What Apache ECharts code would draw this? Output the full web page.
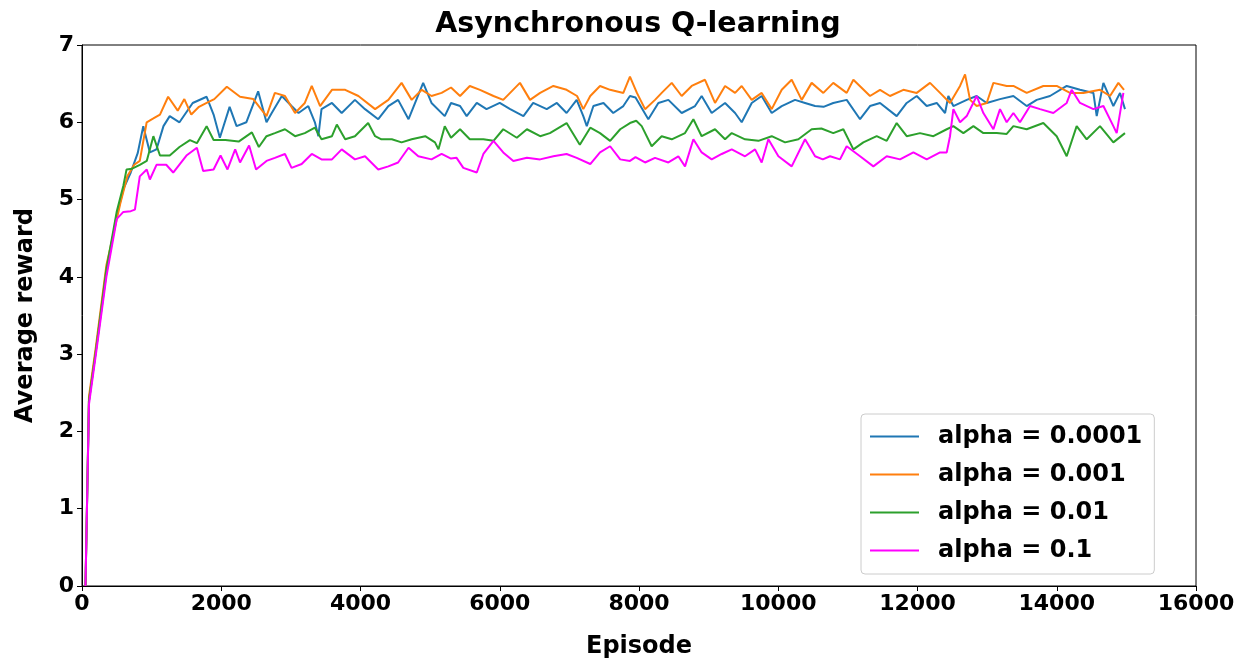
<!DOCTYPE html>
<html>
<head>
<meta charset="utf-8">
<script src="https://cdn.jsdelivr.net/npm/echarts@6/dist/echarts.min.js"></script>
<style>html,body{margin:0;padding:0;background:#fff}#chart{width:1244px;height:664px}</style>
</head>
<body>
<div id="chart"></div>
<script>
const seriesNames = ['alpha = 0.0001', 'alpha = 0.001', 'alpha = 0.01', 'alpha = 0.1'];
const seriesColors = ['#1f77b4', '#ff7f0e', '#2ca02c', '#ff00ff'];
const xTicks = [0, 2000, 4000, 6000, 8000, 10000, 12000, 14000, 16000];
const yTicks = [0, 1, 2, 3, 4, 5, 6, 7];

// [episode, average reward]
const alpha0001 = [[50,0],[100,2.4],[200,3.05],[350,4.05],[500,4.8],[600,5.15],[700,5.35],[800,5.6],[880,5.95],[975,5.61],[1070,5.65],[1170,5.95],[1260,6.08],[1400,6.0],[1590,6.25],[1790,6.33],[1890,6.1],[1980,5.8],[2120,6.2],[2220,5.95],[2360,6.0],[2530,6.4],[2650,6.0],[2725,6.12],[2870,6.34],[3010,6.21],[3110,6.12],[3250,6.21],[3345,6.0],[3395,5.82],[3440,6.17],[3590,6.25],[3730,6.12],[3920,6.29],[4065,6.17],[4255,6.04],[4400,6.21],[4540,6.29],[4690,6.04],[4900,6.51],[5020,6.25],[5210,6.08],[5300,6.25],[5430,6.21],[5525,6.08],[5670,6.25],[5810,6.17],[6000,6.25],[6150,6.17],[6340,6.08],[6480,6.25],[6675,6.17],[6820,6.25],[6960,6.12],[7105,6.29],[7200,6.08],[7250,5.95],[7345,6.21],[7490,6.25],[7630,6.12],[7775,6.21],[7870,6.34],[7950,6.32],[8134,6.04],[8278,6.25],[8422,6.29],[8613,6.12],[8805,6.21],[8900,6.34],[9044,6.12],[9236,6.25],[9380,6.12],[9475,6.0],[9619,6.25],[9762,6.34],[9906,6.12],[10050,6.21],[10241,6.29],[10385,6.25],[10529,6.21],[10650,6.2],[10790,6.25],[10983,6.29],[11175,6.04],[11318,6.21],[11462,6.25],[11701,6.08],[11845,6.25],[11989,6.34],[12132,6.21],[12276,6.25],[12396,6.12],[12443,6.34],[12515,6.21],[12707,6.29],[12850,6.34],[12994,6.25],[13185,6.3],[13377,6.34],[13568,6.21],[13712,6.29],[13903,6.34],[14143,6.47],[14334,6.42],[14526,6.38],[14574,6.08],[14670,6.51],[14813,6.21],[14909,6.38],[14980,6.17]];

const alpha001 = [[50,0],[100,2.45],[200,3.1],[350,4.15],[450,4.55],[550,4.95],[650,5.3],[750,5.45],[830,5.5],[929,6.0],[1025,6.05],[1120,6.1],[1237,6.33],[1375,6.15],[1470,6.3],[1570,6.1],[1680,6.2],[1790,6.25],[1900,6.3],[2080,6.46],[2270,6.33],[2460,6.3],[2650,6.08],[2770,6.38],[2915,6.34],[3060,6.12],[3200,6.25],[3300,6.47],[3420,6.21],[3590,6.42],[3780,6.42],[3970,6.34],[4210,6.17],[4400,6.29],[4590,6.51],[4735,6.29],[4880,6.42],[5020,6.34],[5165,6.38],[5300,6.45],[5430,6.34],[5570,6.47],[5716,6.42],[5910,6.34],[6050,6.29],[6290,6.51],[6435,6.29],[6580,6.38],[6770,6.47],[6960,6.42],[7110,6.34],[7200,6.17],[7300,6.34],[7440,6.47],[7585,6.42],[7775,6.38],[7870,6.59],[7970,6.38],[8087,6.17],[8230,6.29],[8326,6.38],[8470,6.51],[8613,6.34],[8757,6.47],[8948,6.55],[9092,6.25],[9236,6.47],[9380,6.38],[9475,6.47],[9619,6.29],[9762,6.38],[9906,6.17],[10050,6.42],[10193,6.55],[10337,6.29],[10480,6.51],[10648,6.38],[10790,6.51],[10983,6.38],[11079,6.55],[11318,6.34],[11462,6.42],[11605,6.34],[11797,6.42],[11989,6.38],[12180,6.51],[12324,6.38],[12467,6.25],[12611,6.47],[12683,6.62],[12755,6.29],[12850,6.21],[12994,6.25],[13090,6.51],[13281,6.47],[13377,6.47],[13568,6.38],[13807,6.47],[13999,6.47],[14190,6.38],[14382,6.38],[14621,6.42],[14765,6.34],[14885,6.51],[14966,6.42]];

const alpha01 = [[50,0],[100,2.4],[200,3.05],[350,4.1],[500,4.85],[594,5.18],[640,5.39],[720,5.4],[830,5.45],[930,5.5],[1025,5.82],[1120,5.57],[1260,5.57],[1400,5.68],[1550,5.77],[1650,5.73],[1790,5.95],[1890,5.77],[2060,5.77],[2250,5.75],[2440,5.87],[2540,5.68],[2650,5.82],[2770,5.86],[2915,5.91],[3060,5.82],[3200,5.86],[3345,5.93],[3440,5.78],[3590,5.82],[3660,5.97],[3780,5.78],[3920,5.82],[4110,5.99],[4210,5.82],[4300,5.78],[4450,5.78],[4590,5.74],[4735,5.78],[4930,5.82],[5070,5.74],[5120,5.65],[5210,5.95],[5300,5.8],[5430,5.91],[5570,5.78],[5765,5.78],[5910,5.76],[6050,5.91],[6245,5.8],[6390,5.91],[6580,5.82],[6720,5.86],[6960,5.99],[7150,5.71],[7300,5.93],[7440,5.86],[7585,5.76],[7730,5.91],[7870,5.99],[7960,6.02],[8039,5.95],[8182,5.69],[8326,5.82],[8470,5.78],[8661,5.86],[8781,6.04],[8900,5.82],[9092,5.91],[9236,5.78],[9332,5.86],[9523,5.78],[9715,5.76],[9906,5.82],[10098,5.74],[10289,5.78],[10480,5.91],[10620,5.92],[10790,5.86],[10935,5.91],[11079,5.65],[11222,5.74],[11414,5.82],[11558,5.76],[11701,5.99],[11845,5.82],[12036,5.86],[12228,5.82],[12420,5.91],[12515,5.95],[12659,5.86],[12803,5.95],[12946,5.86],[13138,5.86],[13281,5.85],[13377,5.95],[13568,5.91],[13807,5.99],[13999,5.82],[14143,5.56],[14286,5.95],[14430,5.78],[14621,5.95],[14813,5.74],[14980,5.86]];

const alpha1 = [[50,0],[100,2.35],[200,3.0],[350,4.0],[500,4.75],[594,4.84],[700,4.85],[760,4.87],[830,5.3],[930,5.39],[975,5.26],[1070,5.45],[1210,5.45],[1310,5.35],[1500,5.57],[1650,5.67],[1740,5.37],[1890,5.39],[1990,5.57],[2090,5.39],[2200,5.65],[2270,5.48],[2400,5.7],[2500,5.39],[2650,5.5],[2770,5.54],[2915,5.59],[3010,5.41],[3155,5.46],[3300,5.59],[3440,5.52],[3590,5.52],[3730,5.65],[3920,5.52],[4065,5.56],[4255,5.39],[4400,5.43],[4540,5.48],[4690,5.67],[4830,5.56],[5020,5.52],[5165,5.59],[5300,5.53],[5380,5.54],[5477,5.41],[5670,5.35],[5765,5.59],[5910,5.76],[6050,5.61],[6195,5.5],[6390,5.54],[6580,5.52],[6770,5.56],[6960,5.59],[7105,5.54],[7300,5.46],[7440,5.61],[7585,5.69],[7730,5.52],[7870,5.5],[7950,5.55],[8087,5.48],[8230,5.54],[8422,5.48],[8565,5.56],[8661,5.43],[8781,5.78],[8900,5.61],[9044,5.52],[9188,5.59],[9332,5.65],[9523,5.56],[9667,5.65],[9762,5.48],[9858,5.78],[10002,5.56],[10193,5.43],[10385,5.78],[10529,5.56],[10640,5.52],[10744,5.56],[10887,5.52],[10983,5.69],[11175,5.56],[11366,5.43],[11558,5.56],[11749,5.52],[11941,5.61],[12132,5.52],[12324,5.61],[12420,5.61],[12467,5.82],[12515,6.17],[12611,6.0],[12707,6.08],[12850,6.34],[12946,6.12],[13090,5.91],[13185,6.17],[13281,6.0],[13377,6.12],[13472,6.0],[13616,6.21],[13760,6.17],[13951,6.12],[14143,6.25],[14214,6.42],[14334,6.25],[14526,6.17],[14670,6.21],[14813,5.95],[14861,5.86],[14957,6.38]];

const seriesData = [alpha0001, alpha001, alpha01, alpha1];

const FONT = 'DejaVu Sans';
const chart = echarts.init(document.getElementById('chart'), null, {renderer: 'canvas'});
chart.setOption({
  animation: false,
  backgroundColor: '#fff',
  title: {
    text: 'Asynchronous Q-learning',
    left: 633, top: 5, textAlign: 'center',
    textStyle: {fontFamily: FONT, fontWeight: 'bold', fontSize: 28.5, color: '#000'}
  },
  legend: {
    orient: 'vertical',
    left: 861, top: 414,
    padding: [9, 12, 10, 9],
    icon: 'rect',
    itemWidth: 49, itemHeight: 2, itemGap: 11,
    backgroundColor: 'rgba(255,255,255,0.8)',
    borderColor: '#cccccc', borderWidth: 1, borderRadius: 4,
    textStyle: {fontFamily: FONT, fontWeight: 'bold', fontSize: 24, lineHeight: 27, color: '#000', padding: [0, 0, 0, 14]},
    data: seriesNames
  },
  grid: {
    left: 82, right: 48, top: 45, bottom: 75,
    show: true, borderColor: '#000', borderWidth: 1, backgroundColor: 'transparent'
  },
  xAxis: {
    type: 'value', min: xTicks[0], max: xTicks[xTicks.length - 1], interval: 2000,
    name: 'Episode', nameLocation: 'middle', nameGap: 49,
    nameTextStyle: {fontFamily: FONT, fontWeight: 'bold', fontSize: 24, color: '#000'},
    axisLine: {lineStyle: {color: '#000', width: 1}},
    axisTick: {show: true, inside: false, length: 5, lineStyle: {color: '#000'}},
    axisLabel: {fontFamily: FONT, fontWeight: 'bold', fontSize: 22, color: '#000', margin: 7, formatter: v => String(v)},
    splitLine: {show: false}
  },
  yAxis: {
    type: 'value', min: yTicks[0], max: yTicks[yTicks.length - 1], interval: 1,
    name: 'Average reward', nameLocation: 'middle', nameGap: 44,
    nameTextStyle: {fontFamily: FONT, fontWeight: 'bold', fontSize: 24, color: '#000'},
    axisLine: {show: true, lineStyle: {color: '#000', width: 1}},
    axisTick: {show: true, inside: false, length: 5, lineStyle: {color: '#000'}},
    axisLabel: {fontFamily: FONT, fontWeight: 'bold', fontSize: 22, color: '#000', margin: 8, formatter: v => String(v)},
    splitLine: {show: false}
  },
  series: seriesData.map((d, i) => ({
    name: seriesNames[i],
    type: 'line',
    data: d,
    symbol: 'none',
    color: seriesColors[i],
    lineStyle: {color: seriesColors[i], width: 2},
    emphasis: {disabled: true}
  }))
});
</script>
</body>
</html>
